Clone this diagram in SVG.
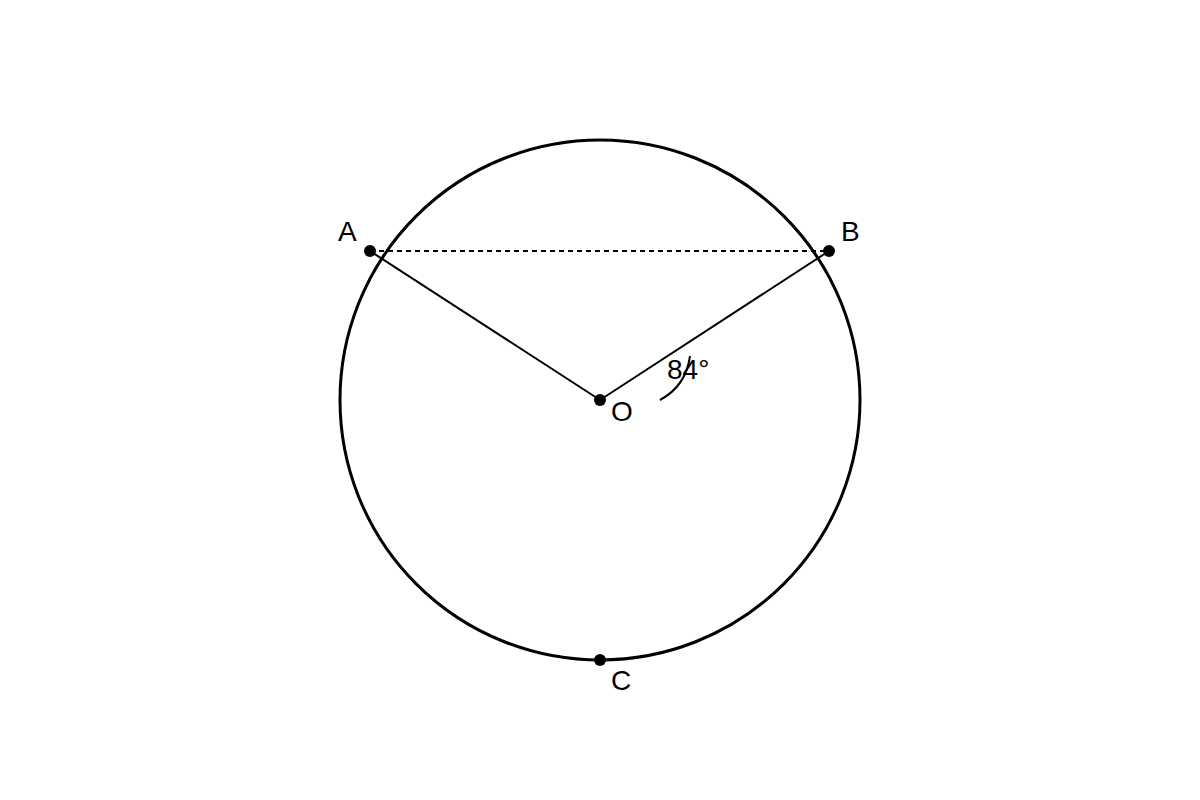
<svg xmlns="http://www.w3.org/2000/svg" width="1200" height="800" viewBox="0 0 1200 800">
<style>
.lbl{font-family:"Liberation Sans",Arial,sans-serif;font-size:28px;fill:#000}
.pt{fill:#000}
.ln{stroke:#000;stroke-width:2;fill:none}
</style>
<rect width="1200" height="800" fill="#fff"/>
<g id="circle"><circle cx="600" cy="400" r="260" fill="none" stroke="#000" stroke-width="3"/></g>
<g id="connectors">
<line class="ln" x1="370" y1="251" x2="829" y2="251" stroke-dasharray="5,4" stroke-width="1.2"/>
<line class="ln" x1="370" y1="251" x2="600" y2="400"/>
<line class="ln" x1="829" y1="251" x2="600" y2="400"/>
<path class="ln" d="M660,400 Q686,386 690,356"/>
</g>
<g id="A"><circle class="pt" cx="370" cy="251" r="6"/><text class="lbl" x="338" y="241">A</text></g>
<g id="B"><circle class="pt" cx="829" cy="251" r="6"/><text class="lbl" x="841" y="241">B</text></g>
<g id="O"><circle class="pt" cx="600" cy="400" r="6"/><text class="lbl" x="611" y="421">O</text></g>
<g id="C"><circle class="pt" cx="600" cy="660" r="6"/><text class="lbl" x="611" y="690">C</text></g>
<g id="angle"><text class="lbl" x="667" y="379">84°</text></g>
</svg>
